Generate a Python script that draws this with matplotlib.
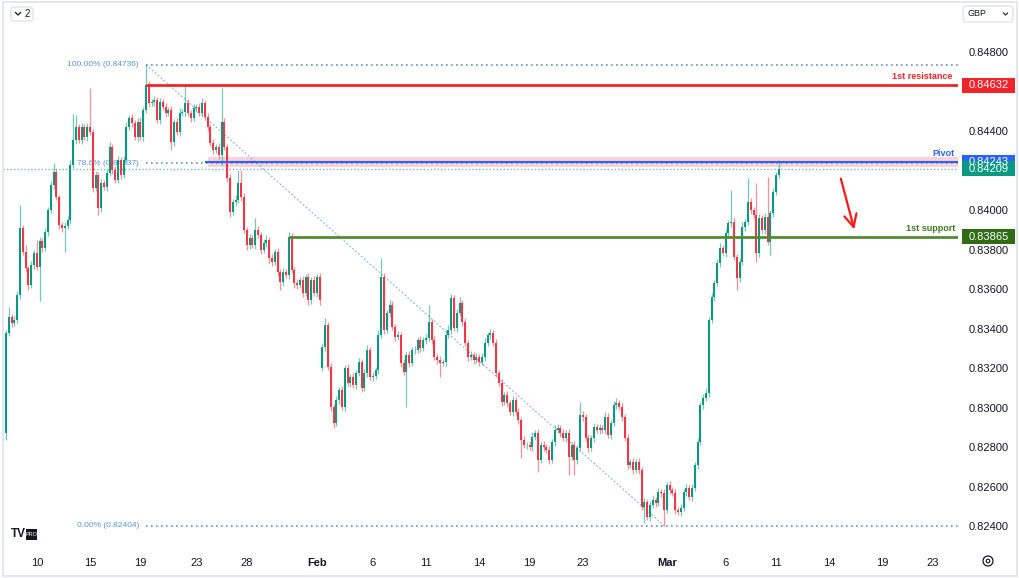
import matplotlib
matplotlib.use("Agg")
import matplotlib.pyplot as plt
import matplotlib.transforms as mtransforms
from matplotlib.patches import Rectangle, FancyBboxPatch, Circle
from matplotlib.lines import Line2D

plt.rcParams['font.family'] = ['Liberation Sans', 'DejaVu Sans']

# ---- data (EUR/GBP 4h) ----
first_open = 0.82872
feb_open = 0.83201          # weekend gap open of first February candle
feb_index = 113

closes = [
    0.83378, 0.83459, 0.83429, 0.83444, 0.83570, 0.83909, 0.83788, 0.83707, 0.83621, 0.83722,
    0.83783, 0.83712, 0.83844, 0.83808, 0.83889, 0.84001, 0.84127, 0.84193, 0.84066, 0.83925,
    0.83909, 0.83920, 0.83950, 0.84228, 0.84355, 0.84420, 0.84355, 0.84420, 0.84370, 0.84420,
    0.84395, 0.84112, 0.84178, 0.84011, 0.84137, 0.84117, 0.84188, 0.84319, 0.84203, 0.84152,
    0.84254, 0.84178, 0.84254, 0.84420, 0.84466, 0.84441, 0.84370, 0.84446, 0.84370, 0.84507,
    0.84633, 0.84542, 0.84547, 0.84557, 0.84456, 0.84547, 0.84522, 0.84491, 0.84507, 0.84345,
    0.84446, 0.84395, 0.84491, 0.84496, 0.84542, 0.84491, 0.84466, 0.84517, 0.84522, 0.84491,
    0.84542, 0.84471, 0.84420, 0.84340, 0.84304, 0.84319, 0.84279, 0.84446, 0.84319, 0.84162,
    0.83990, 0.84041, 0.84051, 0.84137, 0.84066, 0.83899, 0.83823, 0.83859, 0.83823, 0.83899,
    0.83874, 0.83798, 0.83834, 0.83849, 0.83758, 0.83737, 0.83788, 0.83687, 0.83636, 0.83687,
    0.83672, 0.83864, 0.83697, 0.83631, 0.83621, 0.83646, 0.83581, 0.83661, 0.83545, 0.83646,
    0.83581, 0.83661, 0.83545, 0.83307, 0.83419, 0.83206, 0.83004, 0.82923, 0.83039, 0.83090,
    0.83004, 0.83201, 0.83125, 0.83155, 0.83115, 0.83176, 0.83231, 0.83100, 0.83176, 0.83292,
    0.83155, 0.83161, 0.83191, 0.83368, 0.83661, 0.83393, 0.83479, 0.83520, 0.83408, 0.83358,
    0.83368, 0.83226, 0.83181, 0.83267, 0.83226, 0.83292, 0.83292, 0.83343, 0.83302, 0.83343,
    0.83353, 0.83434, 0.83343, 0.83257, 0.83242, 0.83226, 0.83231, 0.83368, 0.83393, 0.83555,
    0.83403, 0.83479, 0.83530, 0.83434, 0.83328, 0.83257, 0.83267, 0.83242, 0.83257, 0.83231,
    0.83257, 0.83328, 0.83368, 0.83378, 0.83328, 0.83176, 0.83125, 0.83029, 0.83064, 0.83024,
    0.82978, 0.83039, 0.82978, 0.82938, 0.82837, 0.82811, 0.82811, 0.82801, 0.82852, 0.82872,
    0.82736, 0.82811, 0.82801, 0.82786, 0.82736, 0.82827, 0.82887, 0.82897, 0.82872, 0.82847,
    0.82872, 0.82751, 0.82811, 0.82736, 0.82796, 0.82963, 0.82953, 0.82847, 0.82796, 0.82847,
    0.82902, 0.82887, 0.82897, 0.82887, 0.82953, 0.82862, 0.82923, 0.83014, 0.83024, 0.83004,
    0.82953, 0.82847, 0.82710, 0.82725, 0.82685, 0.82725, 0.82685, 0.82498, 0.82523, 0.82447,
    0.82508, 0.82533, 0.82518, 0.82574, 0.82569, 0.82483, 0.82609, 0.82584, 0.82569, 0.82483,
    0.82472, 0.82493, 0.82574, 0.82594, 0.82548, 0.82594, 0.82710, 0.82827, 0.83014, 0.83049,
    0.83075, 0.83444, 0.83560, 0.83631, 0.83732, 0.83808, 0.83783, 0.83884, 0.83935, 0.83940,
    0.83763, 0.83656, 0.83737, 0.83914, 0.83940, 0.84041, 0.84001, 0.83975, 0.83783, 0.83960,
    0.83899, 0.83965, 0.83839, 0.83985, 0.84092, 0.84178, 0.84209,
]

# wick lengths above / below the body, in pipettes (0.00001)
wick_up = [
    15, 50, 15, 20, 20, 115, 15, 35, 10, 20, 15, 65, 20, 15, 20, 15, 20, 45, 15, 10,
    15, 20, 20, 25, 130, 60, 15, 20, 15, 20, 200, 15, 20, 15, 20, 15, 20, 25, 15, 20,
    20, 15, 20, 25, 15, 20, 15, 20, 25, 15, 103, 20, 15, 20, 15, 20, 15, 20, 15, 20,
    15, 20, 25, 15, 90, 20, 15, 20, 15, 20, 25, 15, 20, 15, 20, 15, 20, 170, 20, 15,
    20, 15, 25, 65, 65, 20, 15, 20, 15, 60, 20, 15, 20, 25, 15, 20, 15, 20, 15, 20,
    15, 25, 20, 15, 20, 15, 20, 15, 20, 15, 20, 15, 20, 20, 35, 15, 20, 15, 20, 15,
    20, 15, 20, 15, 20, 15, 20, 15, 20, 25, 15, 20, 15, 25, 95, 20, 15, 25, 20, 15,
    20, 15, 20, 15, 20, 15, 20, 15, 20, 15, 20, 85, 15, 20, 15, 20, 15, 20, 25, 20,
    15, 20, 30, 15, 20, 15, 20, 15, 20, 15, 20, 25, 15, 20, 15, 20, 15, 20, 15, 20,
    15, 20, 15, 20, 15, 20, 15, 20, 25, 15, 20, 15, 20, 15, 20, 15, 25, 20, 15, 20,
    15, 20, 15, 20, 15, 65, 20, 15, 20, 15, 20, 15, 20, 15, 25, 20, 15, 20, 25, 15,
    20, 15, 20, 15, 20, 15, 20, 15, 20, 15, 20, 25, 15, 20, 15, 20, 15, 20, 15, 20,
    15, 20, 15, 20, 15, 20, 15, 20, 15, 20, 25, 15, 20, 15, 20, 25, 15, 20, 15, 160,
    20, 15, 20, 25, 15, 120, 20, 15, 160, 20, 15, 20, 200, 15, 20, 15, 45,
]
wick_dn = [
    35, 15, 20, 15, 15, 20, 15, 20, 25, 15, 20, 15, 170, 20, 15, 20, 15, 20, 15, 20,
    20, 120, 15, 20, 15, 20, 15, 20, 15, 20, 15, 20, 15, 35, 20, 15, 20, 15, 20, 15,
    15, 20, 15, 20, 15, 20, 15, 20, 15, 20, 15, 20, 15, 20, 15, 20, 15, 20, 15, 40,
    20, 15, 20, 15, 20, 15, 20, 15, 20, 15, 20, 15, 20, 15, 20, 15, 20, 50, 15, 20,
    25, 15, 20, 15, 20, 15, 25, 20, 15, 20, 15, 20, 15, 20, 25, 20, 15, 20, 40, 20,
    15, 20, 15, 25, 20, 15, 20, 15, 25, 20, 15, 20, 25, 15, 20, 15, 20, 25, 15, 20,
    15, 20, 15, 20, 15, 20, 15, 20, 15, 20, 15, 20, 15, 20, 15, 20, 15, 20, 15, 20,
    15, 20, 15, 175, 20, 15, 20, 15, 20, 15, 20, 15, 20, 15, 20, 70, 15, 20, 15, 20,
    15, 20, 15, 20, 15, 20, 15, 20, 15, 20, 15, 20, 15, 20, 15, 20, 15, 20, 15, 20,
    15, 20, 15, 20, 90, 15, 20, 15, 20, 15, 60, 15, 20, 15, 20, 15, 20, 15, 20, 15,
    20, 90, 15, 75, 20, 15, 20, 15, 20, 15, 20, 15, 20, 15, 20, 15, 20, 15, 20, 15,
    20, 15, 20, 15, 20, 15, 20, 15, 80, 15, 20, 15, 20, 15, 20, 79, 15, 20, 15, 20,
    15, 20, 15, 20, 15, 20, 15, 20, 15, 20, 15, 20, 15, 20, 15, 20, 15, 20, 15, 20,
    15, 60, 20, 15, 20, 15, 20, 15, 45, 20, 15, 20, 15, 65, 20, 15, 15,
]

tick_pos = [11, 30, 48, 68, 86, 111, 131, 150, 169, 187, 206, 236, 257, 275, 294, 313, 331]
tick_lbl = ["10", "15", "19", "23", "28", "Feb", "6", "11", "14", "19", "23",
            "Mar", "6", "11", "14", "19", "23"]
# 0.842 and 0.846 sit under the price tags, so they get no label
price_ticks = [0.824, 0.826, 0.828, 0.830, 0.832, 0.834, 0.836, 0.838,
               0.840, 0.844, 0.848]

fib_high, fib_low = 0.84736, 0.82404
fib_high_i, fib_low_i = 50, 235
fib_786 = 0.84237
resistance = 0.84632
pivot = 0.84243
pivot_zone = (0.84218, 0.84269)
pivot_start = 72
support = 0.83865
support_start = 101
last_price = 0.84209

UP, DN = "#089981", "#f23645"
RED = "#f2242b"

# ---- figure ----
fig = plt.figure(figsize=(10.19, 5.78), dpi=100)
fig.patch.set_facecolor("white")
ax = fig.add_axes([4 / 1019, 33 / 578, 954 / 1019, 540 / 578])
ax.set_xlim(-0.714, 340.0)
ax.set_ylim(0.823054, 0.850378)
for s in ax.spines.values():
    s.set_visible(False)

opens = [first_open] + closes[:-1]
opens[feb_index] = feb_open
xs = list(range(len(closes)))
for i in xs:
    o, c = opens[i], closes[i]
    col = UP if c >= o else DN
    top, bot = max(o, c), min(o, c)
    hi = top + wick_up[i] * 1e-5
    lo = bot - wick_dn[i] * 1e-5
    ax.vlines(i, lo, hi, color=col, lw=0.9, alpha=0.55, zorder=3)
    ax.bar(i, max(top - bot, 0.00002), bottom=bot, width=0.7, color=col,
           lw=0, zorder=4)

xmax = ax.get_xlim()[1]
fib_col = "#5b95d8"
# fib levels
for lvl, txt in [(fib_high, "100.00% (0.84736)"), (fib_786, "78.6% (0.84237)"),
                 (fib_low, "0.00% (0.82404)")]:
    ax.hlines(lvl, fib_high_i, xmax, color=fib_col, lw=1.2, linestyle=(0, (1, 2)), zorder=2)
    ax.text(fib_high_i - 2.5, lvl, txt, color=fib_col, fontsize=6, ha="right", va="center")
ax.plot([fib_high_i, fib_low_i], [fib_high, fib_low], color=fib_col, lw=0.7,
        linestyle=(0, (2, 2)), alpha=0.8, zorder=2)

# current price line
ax.hlines(last_price, -1, xmax, color=UP, lw=1, linestyle=(0, (1, 1.5)), alpha=0.6, zorder=2)

# pivot zone
ax.add_patch(Rectangle((pivot_start, pivot_zone[0]), xmax - pivot_start,
                       pivot_zone[1] - pivot_zone[0], facecolor=DN, alpha=0.22,
                       lw=0, zorder=1))
ax.hlines(pivot, pivot_start - 1, xmax, color="#2962ff", lw=1.5, zorder=5)
ax.hlines(resistance, fib_high_i, xmax, color=RED, lw=2, zorder=5)
ax.hlines(support, support_start, xmax, color="#558a32", lw=2, zorder=5)

ax.text(337.9, resistance + 0.00022, "1st resistance", color=RED, fontsize=6.5,
        fontweight="bold", ha="right", va="bottom")
ax.text(338.9, pivot + 0.0002, "Pivot", color="#2962ff", fontsize=6.5,
        fontweight="bold", ha="right", va="bottom")
ax.text(338.9, support + 0.0002, "1st support", color="#3f7a22", fontsize=6.5,
        fontweight="bold", ha="right", va="bottom")

# red arrow
ax.annotate("", xy=(303.2, 0.83889), xytext=(297.9, 0.84173),
            arrowprops=dict(arrowstyle="->,head_length=0.9,head_width=0.45",
                            color="#ff1a1a", lw=1.6), zorder=6)

# axes ticks
ax.yaxis.tick_right()
ax.set_yticks(price_ticks)
ax.set_yticklabels([f"{p:.5f}" for p in price_ticks])
ax.tick_params(axis="y", length=0, pad=8, labelsize=8, labelcolor="#131722")
ax.set_xticks(tick_pos)
ax.set_xticklabels(tick_lbl)
ax.tick_params(axis="x", length=0, pad=9, labelsize=8, labelcolor="#131722")
for lbl in ax.get_xticklabels():
    if lbl.get_text() in ("Feb", "Mar"):
        lbl.set_fontweight("bold")

# price tags on the axis
blend = mtransforms.blended_transform_factory(fig.transFigure, ax.transData)
tag_h = 15 * 0.0000506
for price, txt, col in [(resistance, "0.84632", RED), (pivot, "0.84243", "#2962ff"),
                        (last_price, "0.84209", UP), (support, "0.83865", "#306b16")]:
    ax.add_patch(Rectangle((962 / 1019, price - tag_h / 2), 53 / 1019, tag_h,
                           transform=blend, facecolor=col, lw=0, clip_on=False, zorder=10))
    ax.text(988.5 / 1019, price, txt, transform=blend, color="white", fontsize=8,
            ha="center", va="center", clip_on=False, zorder=11)

# chrome: frame, buttons, logo, gear
inch = fig.dpi_scale_trans
fig.add_artist(Rectangle((0.03, 0.02), 10.14, 5.74, transform=inch, fill=False,
                         edgecolor="#e0e3eb", lw=1.2))
fig.add_artist(FancyBboxPatch((0.11, 5.57), 0.22, 0.14, boxstyle="round,pad=0,rounding_size=0.03",
                              transform=inch, facecolor="white", edgecolor="#e0e3eb", lw=1))
fig.add_artist(Line2D([0.155, 0.18, 0.205], [5.655, 5.63, 5.655], transform=inch,
                      color="#131722", lw=0.9))
fig.text(0.27, 5.64, "2", transform=inch, fontsize=7, va="center", ha="center", color="#131722")
fig.add_artist(FancyBboxPatch((9.63, 5.56), 0.50, 0.16, boxstyle="round,pad=0,rounding_size=0.03",
                              transform=inch, facecolor="white", edgecolor="#e0e3eb", lw=1))
fig.text(9.68, 5.64, "GBP", transform=inch, fontsize=6.5, va="center", color="#131722")
fig.add_artist(Line2D([10.035, 10.055, 10.075], [5.65, 5.63, 5.65], transform=inch,
                      color="#131722", lw=0.8))
fig.text(0.11, 0.44, "TV", transform=inch, fontsize=8.5, fontweight="bold", va="center",
         color="#131722")
fig.add_artist(Rectangle((0.26, 0.385), 0.11, 0.11, transform=inch, facecolor="#131722", lw=0))
fig.text(0.315, 0.44, "PRO", transform=inch, fontsize=4, color="white", va="center", ha="center")
fig.add_artist(Circle((9.88, 0.17), 0.05, transform=inch, fill=False, edgecolor="#131722", lw=0.9))
fig.add_artist(Circle((9.88, 0.17), 0.018, transform=inch, fill=False, edgecolor="#131722", lw=0.8))

fig.savefig("out.png", dpi=100, facecolor="white")
